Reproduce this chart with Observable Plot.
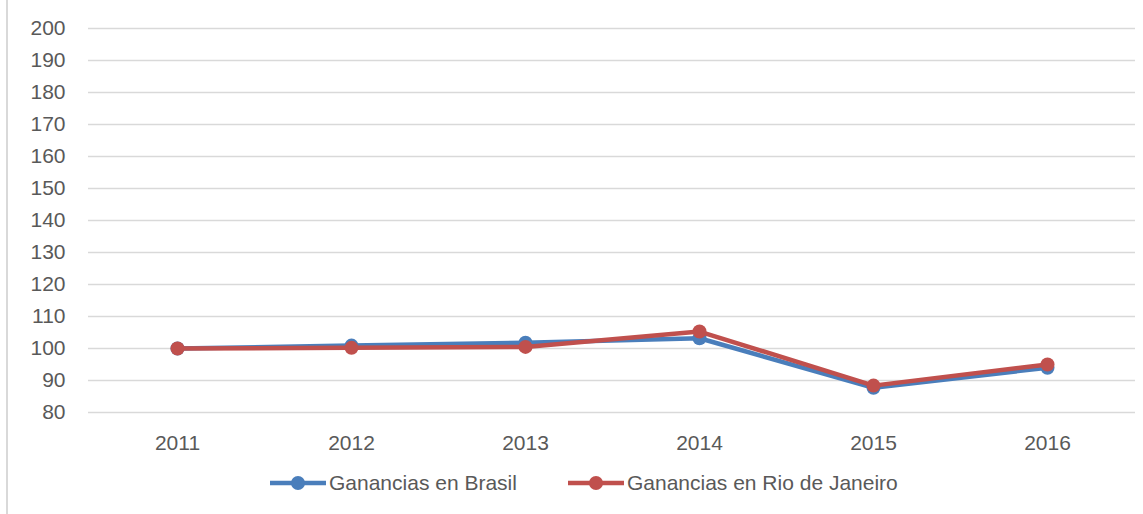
<!DOCTYPE html>
<html>
<head>
<meta charset="utf-8">
<script src="https://cdn.jsdelivr.net/npm/d3@7"></script>
<script src="https://cdn.jsdelivr.net/npm/@observablehq/plot@0.6"></script>
<style>
  html, body { margin: 0; padding: 0; background: #fff; }
  body { width: 1143px; height: 514px; overflow: hidden; position: relative; font-family: "Liberation Sans", Arial, sans-serif; }
  #frame { position: absolute; left: 6px; top: 0; width: 2px; height: 514px; background: #d9d9d9; }
  #legend { display: flex; align-items: center; height: 42px; padding-left: 270px; font-size: 21px; color: #595959; }
  .item { display: flex; align-items: center; }
  .item svg { display: block; }
  .item span { margin-left: 2px; white-space: nowrap; }
</style>
</head>
<body>
<div id="frame"></div>
<div id="chart"></div>
<div id="legend"></div>
<script>
const years = ["2011", "2012", "2013", "2014", "2015", "2016"];
const brasil = [100, 100.9, 101.8, 103.2, 87.7, 94.0];
const rio = [100, 100.2, 100.5, 105.3, 88.4, 95.0];
const seriesNames = ["Ganancias en Brasil", "Ganancias en Rio de Janeiro"];
const seriesColors = ["#4A7EBB", "#C0504D"];
const yTicks = [80, 90, 100, 110, 120, 130, 140, 150, 160, 170, 180, 190, 200];

const rows = [];
[brasil, rio].forEach((vals, si) => {
  vals.forEach((v, i) => rows.push({year: years[i], value: v, series: seriesNames[si]}));
});

const marks = [
  Plot.ruleY(yTicks, {stroke: "#d9d9d9", strokeWidth: 1.5}),
  Plot.axisY(yTicks, {tickSize: 0, tickPadding: 23, fontSize: 21, label: null}),
  Plot.axisX({tickSize: 0, tickPadding: 23, fontSize: 21, label: null})
];
seriesNames.forEach((name, si) => {
  const d = rows.filter(r => r.series === name);
  marks.push(Plot.line(d, {x: "year", y: "value", stroke: seriesColors[si], strokeWidth: 4.5}));
  marks.push(Plot.dot(d, {x: "year", y: "value", fill: seriesColors[si], r: 7}));
});

const chart = Plot.plot({
  width: 1143,
  height: 462,
  marginLeft: 88,
  marginRight: 8,
  marginTop: 28,
  marginBottom: 50,
  style: {color: "#595959", fontFamily: "'Liberation Sans', Arial, sans-serif", background: "transparent"},
  x: {type: "point", domain: years, padding: 0.5},
  y: {domain: [80, 200]},
  marks
});
document.getElementById("chart").appendChild(chart);

const legend = document.getElementById("legend");
seriesNames.forEach((name, si) => {
  const item = document.createElement("div");
  item.className = "item";
  if (si > 0) item.style.marginLeft = "51px";
  item.innerHTML = `<svg width="57" height="20"><line x1="0" y1="10" x2="56" y2="10" stroke="${seriesColors[si]}" stroke-width="4.5"/><circle cx="28" cy="10" r="7" fill="${seriesColors[si]}"/></svg><span>${name}</span>`;
  legend.appendChild(item);
});
</script>
</body>
</html>
